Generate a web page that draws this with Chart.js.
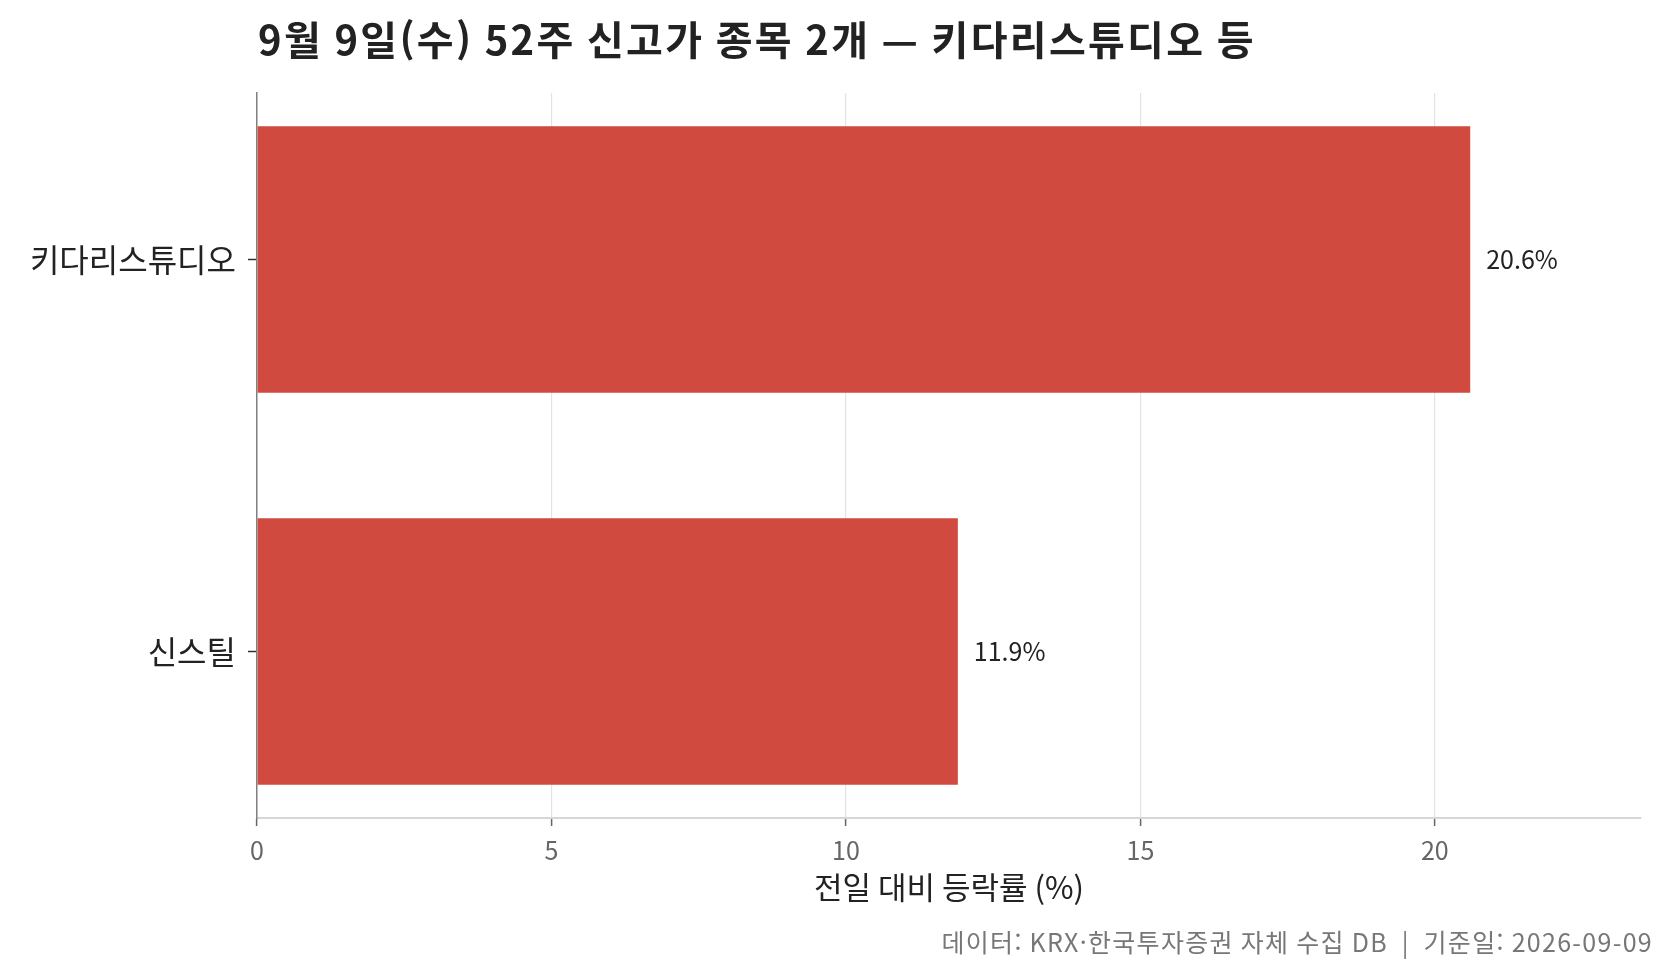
<!DOCTYPE html>
<html lang="ko">
<head>
<meta charset="utf-8">
<title>52주 신고가</title>
<script src="https://cdn.jsdelivr.net/npm/chart.js@4.4.1/dist/chart.umd.min.js"></script>
<style>
  html, body { margin: 0; padding: 0; background: #ffffff; }
  canvas { display: block; }
</style>
</head>
<body>
<canvas id="c" width="1673" height="975"></canvas>
<script>
const titleText = '9월 9일(수) 52주 신고가 종목 2개 — 키다리스튜디오 등';
const footerText = '데이터: KRX·한국투자증권 자체 수집 DB  |  기준일: 2026-09-09';
const xAxisTitle = '전일 대비 등락률 (%)';
const categories = ['키다리스튜디오', '신스틸'];
const changePct = [20.6, 11.9];
const xTicks = [0, 5, 10, 15, 20];
const xMax = 23.5;

const FONT = '"Noto Sans CJK KR", "Noto Sans", sans-serif';
const BAR_COLOR = '#d14a3f';

const points = categories.map((c, i) => ({ x: changePct[i], y: i }));

const titlePlugin = {
  id: 'titleFooter',
  afterDraw(chart) {
    const ctx = chart.ctx;
    ctx.save();
    ctx.textBaseline = 'middle';
    ctx.textAlign = 'left';
    ctx.fillStyle = '#222222';
    ctx.font = 'bold 40px ' + FONT;
    ctx.letterSpacing = '2.3px';
    ctx.fillText(titleText, chart.chartArea.left + 1, 40);
    ctx.textAlign = 'right';
    ctx.fillStyle = '#777777';
    ctx.font = '25px ' + FONT;
    ctx.letterSpacing = '1.3px';
    ctx.fillText(footerText, 1653, 942);
    ctx.restore();
  }
};

const barLabelPlugin = {
  id: 'barLabels',
  afterDatasetsDraw(chart) {
    const ctx = chart.ctx;
    const meta = chart.getDatasetMeta(0);
    ctx.save();
    ctx.textBaseline = 'middle';
    ctx.textAlign = 'left';
    ctx.fillStyle = '#222222';
    ctx.font = '25px ' + FONT;
    meta.data.forEach((el, i) => {
      ctx.fillText(changePct[i].toFixed(1) + '%', el.x + 16, el.y);
    });
    ctx.restore();
  }
};

new Chart(document.getElementById('c'), {
  type: 'bar',
  data: {
    datasets: [{
      data: points,
      backgroundColor: BAR_COLOR,
      borderWidth: 0,
      barPercentage: 0.68,
      categoryPercentage: 1
    }]
  },
  options: {
    indexAxis: 'y',
    responsive: false,
    animation: false,
    devicePixelRatio: 1,
    layout: { padding: { top: 93, right: 32, bottom: 69, left: 0 } },
    plugins: {
      legend: { display: false },
      tooltip: { enabled: false },
      title: { display: false }
    },
    scales: {
      x: {
        type: 'linear',
        position: 'bottom',
        min: 0,
        max: xMax,
        afterBuildTicks(scale) { scale.ticks = xTicks.map(v => ({ value: v })); },
        afterFit(scale) { scale.height = 88; },
        grid: {
          color: '#e3e3e3',
          lineWidth: 1.2,
          drawTicks: true,
          tickLength: 8,
          tickColor: '#666666',
          tickWidth: 1.5
        },
        border: { display: true, color: '#d6d6d6', width: 2 },
        ticks: {
          color: '#666666',
          font: { family: FONT, size: 25 },
          padding: 9,
          maxRotation: 0
        },
        title: {
          display: true,
          text: xAxisTitle,
          color: '#222222',
          font: { family: FONT, size: 31 },
          padding: 0
        }
      },
      y: {
        type: 'linear',
        position: 'left',
        reverse: true,
        offset: false,
        min: -0.425,
        max: 1.425,
        afterBuildTicks(scale) { scale.ticks = categories.map((c, i) => ({ value: i })); },
        afterFit(scale) { scale.width = 257; },
        grid: {
          offset: false,
          drawOnChartArea: false,
          drawTicks: true,
          tickLength: 9,
          tickColor: '#333333',
          tickWidth: 1.5
        },
        border: { display: true, color: '#808080', width: 1.5 },
        ticks: {
          color: '#222222',
          font: { family: FONT, size: 32 },
          padding: 12,
          callback: (v) => categories[v] !== undefined ? categories[v] : ''
        }
      }
    }
  },
  plugins: [titlePlugin, barLabelPlugin]
});
</script>
</body>
</html>
